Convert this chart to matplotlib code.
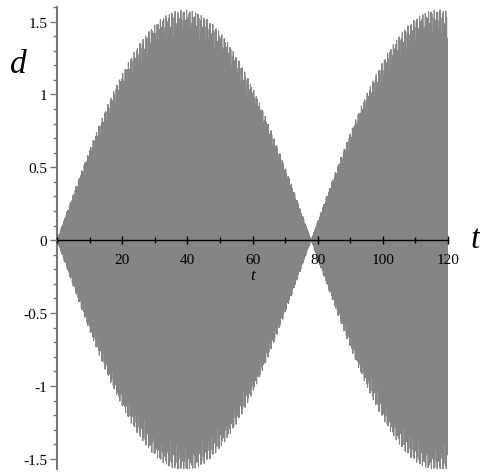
#
# Beating oscillation d(t), drawn in the Maple axis style
#

import numpy as np
import matplotlib.pyplot as plt
from matplotlib.ticker import MultipleLocator, FixedLocator

# Values
amplitude = 1.58       # height of the envelope peaks
beat_zero = 78.0       # t where the envelope goes back to zero
carrier_omega = 25.0   # fast oscillation (looks solid in the picture)
t_end = 120.0

x_ticks = [20, 40, 60, 80, 100, 120]
x_labels = ["20", "40", "60", "80", "100", "120"]
y_ticks = [-1.5, -1, -0.5, 0, 0.5, 1, 1.5]
y_labels = ["-1.5", "-1", "-0.5", "0", "0.5", "1", "1.5"]

t = np.linspace(0, t_end, 3000)
d = amplitude * np.sin(np.pi * t / beat_zero) * np.sin(carrier_omega * t)

plt.rcParams['font.family'] = ['Liberation Serif', 'DejaVu Serif']

fig = plt.figure(figsize=(4.81, 4.77), dpi=100)
ax = fig.add_axes([57 / 481, 7 / 477, (448 - 57) / 481, (469 - 7) / 477])
ax.set_axisbelow(False)

ax.plot(t, d, color="#858585", lw=0.8)

ax.set_xlim(0, t_end)
ax.set_ylim(-1.57, 1.6)

# Maple-like axes through the origin
ax.spines['left'].set_position(('data', 0))
ax.spines['bottom'].set_position(('data', 0))
ax.spines['right'].set_visible(False)
ax.spines['top'].set_visible(False)
ax.spines['left'].set_color("#777777")
ax.spines['left'].set_linewidth(1.5)
ax.spines['bottom'].set_color("black")
ax.spines['bottom'].set_linewidth(1.0)

ax.xaxis.set_major_locator(FixedLocator(x_ticks))
ax.set_xticklabels(x_labels)
ax.xaxis.set_minor_locator(MultipleLocator(10))
ax.yaxis.set_major_locator(FixedLocator(y_ticks))
ax.set_yticklabels(y_labels)
ax.yaxis.set_minor_locator(MultipleLocator(0.1))

ax.tick_params(axis='x', which='major', direction='inout', length=6, width=1,
               labelsize=11, pad=6, color="black")
ax.tick_params(axis='x', which='minor', direction='inout', length=4, width=1,
               color="black")
ax.tick_params(axis='y', which='major', direction='out', length=5, width=1,
               labelsize=11, pad=2, color="#777777")
ax.tick_params(axis='y', which='minor', direction='out', length=3, width=1,
               color="#777777")

# axis labels in the Maple places
fig.text(18 / 481, 1 - 65 / 477, "d", fontsize=24, style='italic',
         ha='center', va='center')
fig.text(475 / 481, 1 - 240 / 477, "t", fontsize=24, style='italic',
         ha='center', va='center')
ax.text(60, -0.24, "t", fontsize=12, style='italic', ha='center', va='center',
        zorder=5)

plt.savefig("out.png", dpi=100)
